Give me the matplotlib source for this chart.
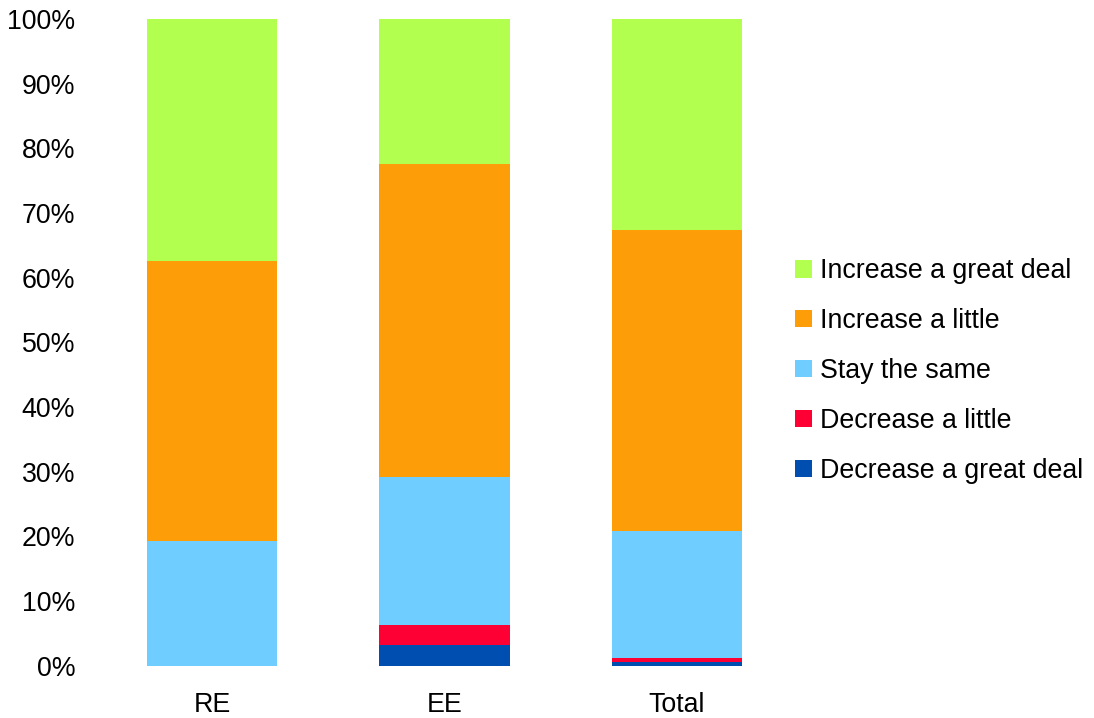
import matplotlib
matplotlib.use("Agg")
import matplotlib.pyplot as plt
from matplotlib.ticker import PercentFormatter

plt.rcParams['font.family'] = ['Liberation Sans', 'DejaVu Sans']

categories = ["RE", "EE", "Total"]
decrease_great = [0.0, 3.2, 0.6]
decrease_little = [0.0, 3.1, 0.6]
stay_same = [19.3, 22.9, 19.6]
increase_little = [43.3, 48.4, 46.6]
increase_great = [37.4, 22.4, 32.6]

series = [
    ("Decrease a great deal", decrease_great, "#004FB0"),
    ("Decrease a little", decrease_little, "#FF0035"),
    ("Stay the same", stay_same, "#70CDFF"),
    ("Increase a little", increase_little, "#FD9E09"),
    ("Increase a great deal", increase_great, "#B3FF50"),
]

FS = 19.3

fig = plt.figure(figsize=(10.94, 7.18), dpi=100)
ax = fig.add_axes([96 / 1094, 1 - 665.7 / 718, (793 - 96) / 1094, 646.7 / 718])

x = list(range(len(categories)))
bottom = [0.0] * len(categories)
handles = []
for label, vals, color in series:
    b = ax.bar(x, vals, width=0.56, bottom=bottom, color=color, label=label, linewidth=0)
    handles.append(b)
    bottom = [bt + v for bt, v in zip(bottom, vals)]

ax.set_xlim(-0.5, 2.5)
ax.set_ylim(0, 100)
ax.set_yticks(range(0, 101, 10))
ax.yaxis.set_major_formatter(PercentFormatter(decimals=0))
ax.set_xticks(x)
ax.set_xticklabels(categories)
ax.tick_params(axis='both', length=0, labelsize=FS, colors='#000000')
ax.tick_params(axis='x', pad=19)
ax.tick_params(axis='y', pad=15)
for s in ax.spines.values():
    s.set_visible(False)

fig.legend(handles[::-1], [s[0] for s in series][::-1],
           loc='center left', bbox_to_anchor=(795 / 1094, 1 - 371 / 718),
           frameon=False, fontsize=FS, handlelength=0.63, handleheight=0.63,
           handletextpad=0.3, labelspacing=0.89, borderaxespad=0, borderpad=0)

fig.savefig("out.png", dpi=100)
